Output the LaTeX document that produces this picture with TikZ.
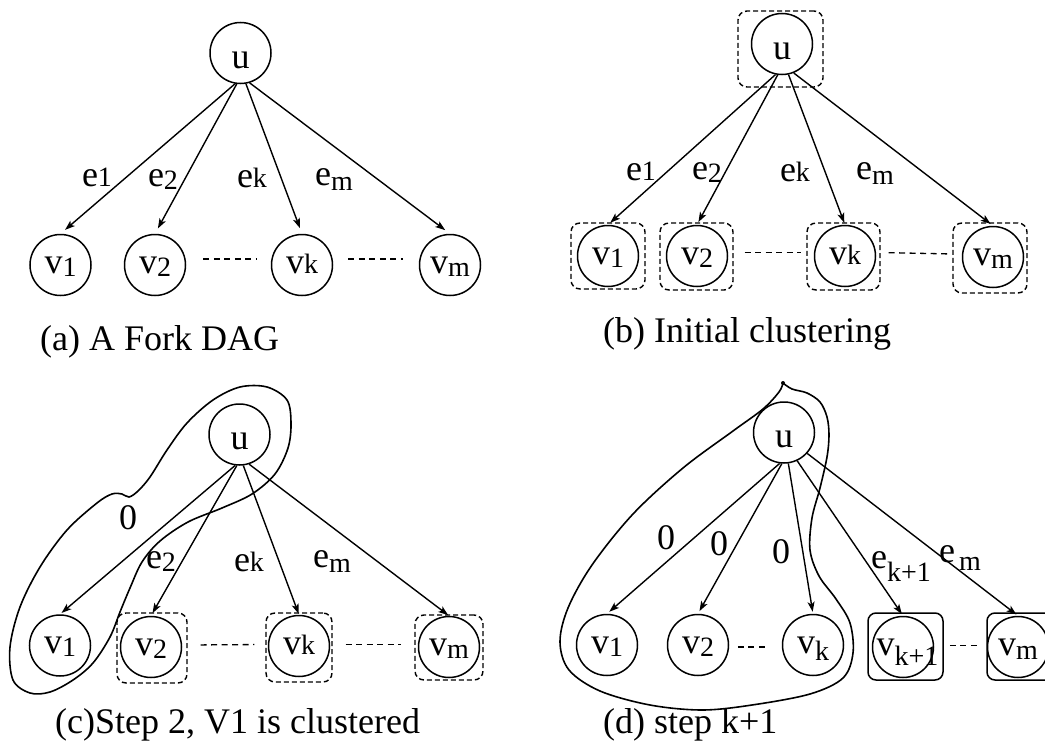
\documentclass[tikz,border=0pt]{standalone}
\usepackage{fontspec}
\setmainfont{Liberation Serif}
\usetikzlibrary{shapes.geometric,arrows.meta}
\newcommand\mysub[2][3pt]{\raisebox{-#1}{\fontsize{28}{30}\selectfont #2}}
\begin{document}
\begin{tikzpicture}[x=1pt,y=-1pt,
  every node/.style={font=\fontsize{36}{40}\selectfont},
  vn/.style={draw, circle, line width=1.5pt, minimum size=61pt, inner sep=1pt, text height=16.5pt, text depth=0pt},
  un/.style={vn, text height=30pt},
  dbox/.style={draw, rectangle, dash pattern=on 5pt off 3pt, rounded corners=9pt, line width=1.4pt, inner sep=0pt},
  sbox/.style={draw, rectangle, rounded corners=8pt, line width=1.5pt, inner sep=0pt},
  arr/.style={line width=1.4pt, -{Stealth[length=10pt,width=7pt,inset=2.5pt]}},
  dl/.style={line width=1.3pt, dash pattern=on 6pt off 4.5pt},
  lab/.style={inner sep=0pt},
  captext/.style={anchor=base west, inner sep=0pt},
  blob/.style={line width=1.6pt, line join=round}
]
\useasboundingbox (0,0) rectangle (1045,744);
\clip (0,0) rectangle (1045,744);

% ---------------- (a) ----------------
\node[un] (au) at (240.5,53) {u};
\node[vn] (av1) at (60.5,265) {v\mysub{1}};
\node[vn] (av2) at (155,265) {v\mysub{2}};
\node[vn] (avk) at (302,265) {v\mysub[0pt]{k}};
\node[vn] (avm) at (450,265) {v\mysub{m}};
\draw[arr, shorten >=6pt] (au.260) -- (av1.north);
\draw[arr, shorten >=6pt] (au.263) -- (av2.north);
\draw[arr, shorten >=6pt] (au.280) -- (avk.north);
\draw[arr, shorten >=6pt] (au.287) -- (avm.north);
\draw[dl, shorten <=17pt, shorten >=14pt] ([yshift=6pt]av2.east) -- ([yshift=6pt]avk.west);
\draw[dl, shorten <=15pt, shorten >=16pt] ([yshift=6pt]avk.east) -- ([yshift=6pt]avm.west);
\node[lab] (lae1) at (97,177) {e\mysub[0pt]{1}};
\node[lab] (lae2) at (163,180) {e\mysub{2}};
\node[lab] (laek) at (252,178) {e\mysub[0pt]{k}};
\node[lab] (laem) at (334,180) {e\mysub[5pt]{m}};
\node[captext] (capa) at (40,350) {(a) A Fork DAG};

% ---------------- (b) ----------------
\node[dbox, minimum width=85pt, minimum height=76pt] (bbu) at (780.5,49) {};
\node[dbox, minimum width=74pt, minimum height=66pt] (bbv1) at (608,256) {};
\node[dbox, minimum width=73pt, minimum height=67pt] (bbv2) at (696.5,256.5) {};
\node[dbox, minimum width=73pt, minimum height=67pt] (bbvk) at (843.5,256.5) {};
\node[dbox, minimum width=74pt, minimum height=70pt] (bbvm) at (990,258) {};
\node[un] (bu) at (782,44) {u};
\node[vn] (bv1) at (608,256) {v\mysub{1}};
\node[vn] (bv2) at (697,256) {v\mysub{2}};
\node[vn] (bvk) at (845,256) {v\mysub[0pt]{k}};
\node[vn] (bvm) at (993,257) {v\mysub{m}};
\draw[arr, shorten >=3pt] (bu.258) -- (bv1.north);
\draw[arr, shorten >=3pt] (bu.262) -- (bv2.north);
\draw[arr, shorten >=2pt] (bu.282) -- (bvk.north);
\draw[arr, shorten >=3pt] (bu.292) -- (bvm.north);
\draw[dl, shorten <=11pt, shorten >=5pt] ([yshift=4pt]bbv2.east) -- ([yshift=4pt]bbvk.west);
\draw[dl, shorten <=8pt, shorten >=5pt] ([yshift=4pt]bbvk.east) -- ([yshift=4pt]bbvm.west);
\node[lab] (lbe1) at (641,171) {e\mysub[0pt]{1}};
\node[lab] (lbe2) at (707,173) {e\mysub{2}};
\node[lab] (lbek) at (795,172) {e\mysub[0pt]{k}};
\node[lab] (lbem) at (875,174) {e\mysub[5pt]{m}};
\node[captext] (capb) at (603,342) {(b) Initial clustering};

% ---------------- (c) ----------------
\node[dbox, minimum width=70pt, minimum height=70pt] (cbv2) at (152,648) {};
\node[dbox, minimum width=66pt, minimum height=69pt] (cbvk) at (299,647.5) {};
\node[dbox, minimum width=68pt, minimum height=65pt] (cbvm) at (449,647.5) {};
\node[un] (cu) at (239.5,434.5) {u};
\node[vn] (cv1) at (60,645.5) {v\mysub{1}};
\node[vn] (cv2) at (151,647) {v\mysub{2}};
\node[vn] (cvk) at (299,646) {v\mysub[0pt]{k}};
\node[vn] (cvm) at (449,647) {v\mysub{m}};
\draw[arr, shorten >=2pt] (cu.262) -- (cv1.north);
\draw[arr, shorten >=3pt] (cu.265) -- (cv2.north);
\draw[arr, shorten >=1pt] (cu.277) -- (cvk.north);
\draw[arr, shorten >=1pt] (cu.288) -- (cvm.north);
\draw[dl, shorten <=13pt, shorten >=11pt] ([yshift=3pt]cbv2.east) -- ([yshift=3pt]cbvk.west);
\draw[dl, shorten <=13pt, shorten >=13pt] ([yshift=3pt]cbvk.east) -- ([yshift=3pt]cbvm.west);
\node[lab] (lc0) at (128,518) {0};
\node[lab] (lce2) at (161,562) {e\mysub{2}};
\node[lab] (lcek) at (249,562) {e\mysub[0pt]{k}};
\node[lab] (lcem) at (332,562) {e\mysub[5pt]{m}};
\draw[blob] plot[smooth cycle, tension=0.55] coordinates {
  (287,400) (267,387) (240,387) (213,400) (187,423) (167,450) (150,477)
  (138,491) (129,497) (122,494) (112,494) (97,503) (67,530) (40,567)
  (20,607) (10,647) (13,680) (30,693) (50,692) (73,680) (93,663)
  (110,637) (120,612) (130,588) (142,562) (160,541) (188,522) (222,508)
  (252,494) (275,474) (288,448) (291,423)};
\node[captext] (capc) at (55,733) {(c)Step 2, V1 is clustered};

% ---------------- (d) ----------------
\node[sbox, minimum width=75pt, minimum height=67pt] (dbk1) at (905.5,646.5) {};
\node[sbox, minimum width=70pt, minimum height=67pt] (dbm) at (1022,646.5) {};
\node[un] (du) at (784,432.5) {u};
\node[vn] (dv1) at (607,645) {v\mysub{1}};
\node[vn] (dv2) at (698,645) {v\mysub{2}};
\node[vn] (dvk) at (813,645) {v\mysub[7pt]{k}};
\node[vn, label={[xshift=4.5pt, text height=16.5pt, text depth=0pt]center:{v\mysub[10pt]{k+1}}}] (dvk1) at (903,647) {};
\node[vn] (dvm) at (1018,647) {v\mysub[4pt]{m}};
\draw[arr, shorten >=3pt] (du.262) -- (dv1.north);
\draw[arr, shorten >=3pt] (du.266) -- (dv2.north);
\draw[arr, shorten >=2pt] (du.278) -- (dvk.north);
\draw[arr, shorten >=2pt] (du.295) -- (dvk1.north);
\draw[arr, shorten >=2pt] (du.318) -- (dvm.north);
\draw[dl, shorten <=8.5pt, shorten >=14.5pt] ([yshift=-2pt]dv2.east) -- ([yshift=-2pt]dvk.west);
\draw[dl, shorten <=6pt, shorten >=8pt] ([yshift=1pt]dbk1.east) -- ([yshift=1pt]dbm.west);
\node[lab] (ld01) at (666,538) {0};
\node[lab] (ld02) at (719,544) {0};
\node[lab] (ld03) at (781,552) {0};
\node[captext] (ldek) at (871,568) {e\mysub[13pt]{k+1}};
\node[captext] (ldem) at (939,562) {e\hspace{4pt}\mysub[8pt]{m}};
\draw[blob] plot[smooth, tension=0.55] coordinates {
  (783,383) (779,392) (763,409) (733,431) (683,468) (633,514) (592,565)
  (568,608) (560,642) (569,670) (600,691) (650,705) (702,710) (752,705)
  (810,694) (843,678) (853,653) (850,623) (836,599) (819,576) (810,550)
  (812,518) (820,488) (827,457) (829,435) (827,417) (820,402) (807,393)
  (792,389) (783,383)};
\fill (783,383) circle (2pt);
\node[captext] (capd) at (603,733) {(d) step k+1};
\end{tikzpicture}
\end{document}
